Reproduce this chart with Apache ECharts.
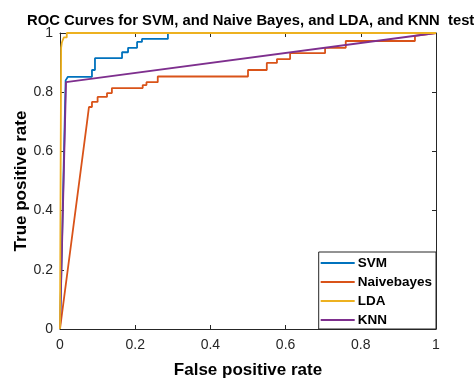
<!DOCTYPE html>
<html><head><meta charset="utf-8">
<script src="https://cdn.jsdelivr.net/npm/echarts@6/dist/echarts.min.js"></script>
<style>html,body{margin:0;padding:0;background:#fff}#c{width:474px;height:378px}</style>
</head><body><div id="c"></div>
<script>
const titleText = "ROC Curves for SVM, and Naive Bayes, and LDA, and KNN  test";
const xTicks = [0, 0.2, 0.4, 0.6, 0.8, 1];
const yTicks = [0, 0.2, 0.4, 0.6, 0.8, 1];
const seriesNames = ["SVM", "Naivebayes", "LDA", "KNN"];
const svmFpr = [0, 0.015, 0.021, 0.085, 0.085, 0.093, 0.093, 0.165, 0.165, 0.181, 0.181, 0.205, 0.205, 0.218, 0.218, 0.287, 0.287, 1];
const svmTpr = [0, 0.84, 0.852, 0.852, 0.875, 0.875, 0.915, 0.915, 0.935, 0.935, 0.95, 0.95, 0.97, 0.97, 0.98, 0.98, 1, 1];
const nbFpr = [0, 0.072, 0.077, 0.085, 0.085, 0.1, 0.1, 0.125, 0.125, 0.138, 0.138, 0.22, 0.22, 0.23, 0.23, 0.26, 0.26, 0.5, 0.5, 0.55, 0.55, 0.577, 0.577, 0.612, 0.612, 0.705, 0.705, 0.76, 0.76, 0.944, 0.944, 1];
const nbTpr = [0, 0.70, 0.75, 0.75, 0.767, 0.767, 0.784, 0.784, 0.797, 0.797, 0.814, 0.814, 0.824, 0.824, 0.834, 0.834, 0.853, 0.853, 0.875, 0.875, 0.899, 0.899, 0.912, 0.912, 0.932, 0.932, 0.95, 0.95, 0.973, 0.973, 0.99, 1];
const ldaFpr = [0, 0.003, 0.005, 0.01, 0.01, 0.018, 0.018, 1];
const ldaTpr = [0, 0.95, 0.968, 0.968, 0.985, 0.985, 1, 1];
const knnFpr = [0, 0.016, 1];
const knnTpr = [0, 0.834, 1];

const colors = ["#0072BD", "#D95319", "#EDB120", "#7E2F8E"];
function pairs(xs, ys) { return xs.map((x, i) => [x, ys[i]]); }
const dataSets = [pairs(svmFpr, svmTpr), pairs(nbFpr, nbTpr), pairs(ldaFpr, ldaTpr), pairs(knnFpr, knnTpr)];
const FONT = "Liberation Sans, Arial, sans-serif";
const axisCol = "#262626";

const chart = echarts.init(document.getElementById('c'), null, {renderer: 'canvas'});
const baseAxis = {
  type: 'value', min: 0, max: 1, interval: 0.2,
  axisLine: {show: true, onZero: false, lineStyle: {color: axisCol, width: 1}},
  axisTick: {show: true, inside: true, length: 4, lineStyle: {color: axisCol}},
  splitLine: {show: false}
};
chart.setOption({
  animation: false,
  backgroundColor: '#fff',
  title: {
    text: titleText, left: 22, top: 8,
    textStyle: {fontFamily: FONT, fontSize: 14.8, fontWeight: 'bold', color: '#000'}
  },
  grid: {left: 60, right: 38, top: 33, bottom: 49, containLabel: false, outerBoundsMode: 'none'},
  legend: {
    orient: 'vertical', right: 38, bottom: 49,
    data: seriesNames.map(n => ({name: n, icon: 'rect'})),
    itemWidth: 34, itemHeight: 2, itemGap: 5,
    padding: [4, 4, 2, 2],
    borderColor: axisCol, borderWidth: 1, borderRadius: 0,
    backgroundColor: '#fff',
    textStyle: {fontFamily: FONT, fontSize: 13.5, fontWeight: 'bold', color: '#000', padding: [0, 0, 0, -2]}
  },
  xAxis: [
    Object.assign({}, baseAxis, {
      position: 'bottom',
      name: 'False positive rate', nameLocation: 'middle', nameGap: 33, nameMoveOverlap: false,
      nameTextStyle: {fontFamily: FONT, fontSize: 17, fontWeight: 'bold', color: '#000'},
      axisLabel: {fontFamily: FONT, fontSize: 14, color: axisCol, margin: 9,
        formatter: v => xTicks.includes(Math.round(v * 10) / 10) ? String(Math.round(v * 10) / 10) : ''}
    }),
    Object.assign({}, baseAxis, {position: 'top', axisLabel: {show: false}})
  ],
  yAxis: [
    Object.assign({}, baseAxis, {
      position: 'left',
      name: 'True positive rate', nameLocation: 'middle', nameGap: 30, nameMoveOverlap: false,
      nameTextStyle: {fontFamily: FONT, fontSize: 17, fontWeight: 'bold', color: '#000'},
      axisLabel: {fontFamily: FONT, fontSize: 14, color: axisCol, margin: 7,
        formatter: v => yTicks.includes(Math.round(v * 10) / 10) ? String(Math.round(v * 10) / 10) : ''}
    }),
    Object.assign({}, baseAxis, {position: 'right', axisLabel: {show: false}})
  ],
  series: seriesNames.map((n, i) => ({
    name: n, type: 'line', data: dataSets[i], symbol: 'none', showSymbol: false,
    lineStyle: {color: colors[i], width: 1.8}, itemStyle: {color: colors[i]},
    z: i === 2 ? 4 : 3
  }))
});
</script></body></html>
